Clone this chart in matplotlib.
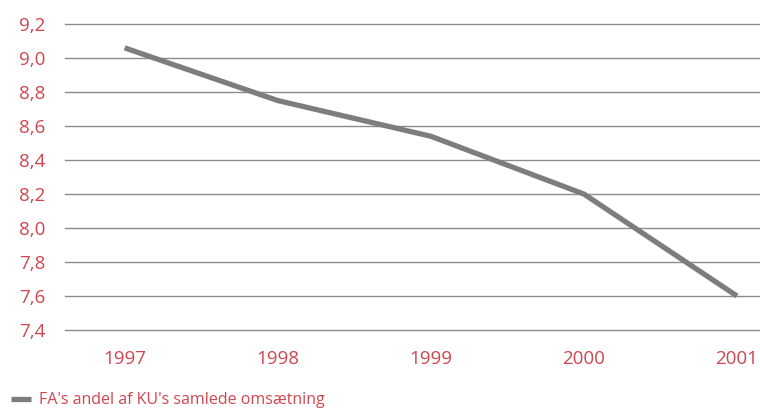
import numpy as np
import matplotlib.pyplot as plt

plt.rcParams['font.family'] = ['Open Sans', 'DejaVu Sans']

years = ['1997', '1998', '1999', '2000', '2001']
andel = [9.06, 8.75, 8.54, 8.20, 7.60]
yticks = [7.4, 7.6, 7.8, 8.0, 8.2, 8.4, 8.6, 8.8, 9.0, 9.2]
label = "FA's andel af KU's samlede omsætning"

red = '#d0464f'
grey = '#7b7d7f'

fig = plt.figure(figsize=(7.6, 4.08), dpi=100)
ax = fig.add_axes([0.0855, 0.191, 0.9145, 0.75])

x = np.arange(len(years))
ax.plot(x, andel, color=grey, lw=3.8, solid_capstyle='butt', label=label, zorder=3)

ax.set_xlim(-0.39, 4.15)
ax.set_ylim(7.4, 9.2)
ax.set_xticks(x)
ax.set_xticklabels(years)
ax.set_yticks(yticks)
ax.set_yticklabels([f'{v:.1f}'.replace('.', ',') for v in yticks])

for v in yticks:
    ax.axhline(v, color='#8c8c8c', lw=1.0, zorder=1, clip_on=False)

for s in ax.spines.values():
    s.set_visible(False)
ax.tick_params(axis='both', length=0, colors=red, labelsize=13.5)
ax.tick_params(axis='y', pad=14)
ax.tick_params(axis='x', pad=14)

fig.legend(loc='lower left', bbox_to_anchor=(0.0, -0.028), frameon=False,
           fontsize=11.5, labelcolor=red, handlelength=1.25, handletextpad=0.5,
           borderaxespad=0.3)

fig.savefig('out.png', dpi=100)
